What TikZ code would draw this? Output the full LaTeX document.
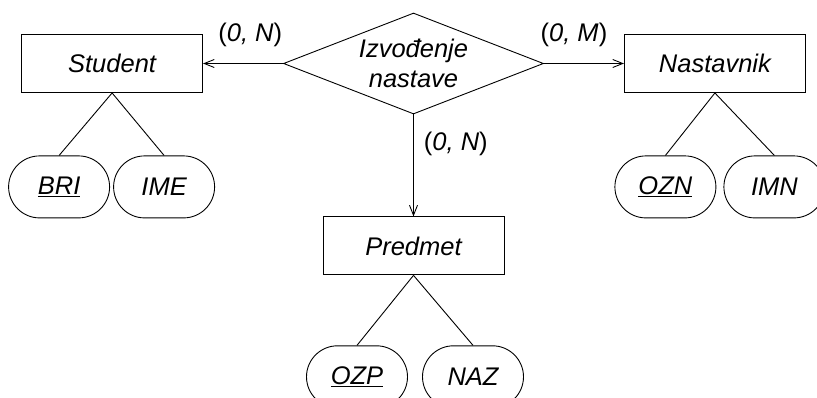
\documentclass[tikz,border=0pt]{standalone}
\usepackage{fontspec}
\setmainfont{Liberation Sans}
\usepackage{tikz}
\usetikzlibrary{
    arrows.meta,
    positioning,
    shapes.geometric,
    shapes.misc
}
\usepackage{xcolor}

\begin{document}
\begin{tikzpicture}[
    x=1pt, y=1pt,
    every node/.style={font=\fontsize{25.5}{30}\selectfont, inner sep=0pt},
    entitet/.style={
        draw,
        minimum width=181pt,
        minimum height=58pt,
        font=\fontsize{25.5}{30}\selectfont\itshape
    },
    veza/.style={
        draw,
        diamond,
        aspect=2.57,
        minimum width=260pt,
        minimum height=101pt,
        align=center,
        font=\fontsize{25.5}{30}\selectfont\itshape
    },
    atribut/.style={
        draw,
        rounded rectangle,
        minimum width=101pt,
        minimum height=62pt,
        font=\fontsize{25.5}{30}\selectfont\itshape
    },
    kard/.style={
        font=\fontsize{25.5}{30}\selectfont
    },
    strelica/.style={
        -{Straight Barb[length=10pt,width=8pt]},
        line width=0.9pt
    },
    linija/.style={
        line width=0.9pt
    },
    line width=0.9pt
]

\useasboundingbox (0,0) rectangle (817,-397);

\node[veza] (izvodjenje) at (413.5,-63.5) {Izvođenje\\nastave};

\node[entitet, left=80pt of izvodjenje] (student) {Student};
\node[entitet, right=80pt of izvodjenje] (nastavnik) {Nastavnik};
\node[entitet, below=102pt of izvodjenje] (predmet) {Predmet};

\node[atribut, below=62.5pt of student.south, xshift=-53pt] (bri) {\underline{BRI}};
\node[atribut, below=62.5pt of student.south, xshift=52pt] (ime) {IME};

\node[atribut, below=62.5pt of nastavnik.south, xshift=-49.5pt] (ozn) {\underline{OZN}};
\node[atribut, below=62.5pt of nastavnik.south, xshift=59.5pt] (imn) {IMN};

\node[atribut, below=70pt of predmet.south, xshift=-56.5pt] (ozp) {\underline{OZP}};
\node[atribut, below=70pt of predmet.south, xshift=59.5pt] (naz) {NAZ};

\draw[strelica] (izvodjenje) -- node[kard, above=16.5pt, pos=0.41] (kardStudent) {(\textit{0, N})} (student);
\draw[strelica] (izvodjenje) -- node[kard, above=16.5pt, pos=0.375] (kardNastavnik) {(\textit{0, M})} (nastavnik);
\draw[strelica] (izvodjenje) -- node[kard, right=10pt, pos=0.29] (kardPredmet) {(\textit{0, N})} (predmet);

\draw[linija] (student.south) -- (bri.north);
\draw[linija] (student.south) -- (ime.north);
\draw[linija] (nastavnik.south) -- (ozn.north);
\draw[linija] (nastavnik.south) -- (imn.north);
\draw[linija] (predmet.south) -- (ozp.north);
\draw[linija] (predmet.south) -- (naz.north);

\end{tikzpicture}
\end{document}
